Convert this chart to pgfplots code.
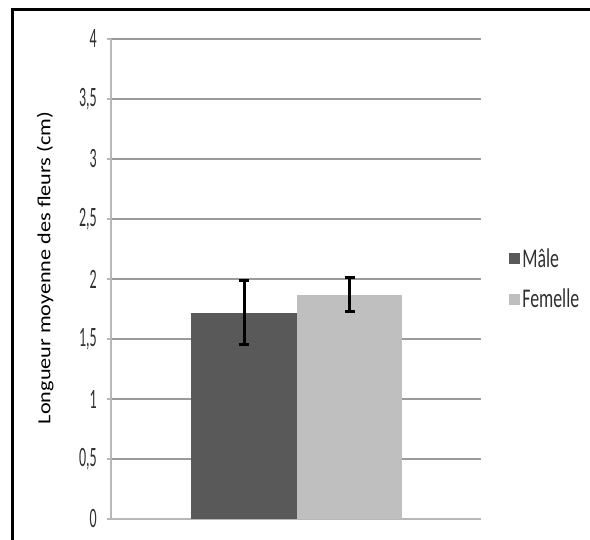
\documentclass[border=0pt]{standalone}
\usepackage{pgfplots}
\pgfplotsset{compat=1.18}
\usepackage{fontspec}
\setmainfont{Carlito}
\usepackage{graphicx}
\definecolor{male}{HTML}{595959}
\definecolor{femelle}{HTML}{BFBFBF}
\definecolor{gridgray}{HTML}{9A9A9A}
\definecolor{axgray}{HTML}{B8B8B8}
\definecolor{txt}{HTML}{303030}
\begin{document}
\begin{tikzpicture}[x=1pt,y=1pt]
\useasboundingbox (0,0) rectangle (590,540);
\fill[white] (0,0) rectangle (590,540);
\draw[line width=3pt, black] (12,0) -- (12,530) -- (590,530);
\begin{axis}[
  at={(111pt,21pt)}, anchor=south west,
  scale only axis, width=370pt, height=480pt,
  xmin=111, xmax=481, ymin=0, ymax=4,
  xtick=\empty,
  ytick={0,0.5,1,1.5,2,2.5,3,3.5,4},
  axis x line=bottom, axis y line=left,
  axis line style={-, line width=2pt, color=axgray},
  ymajorgrids, grid style={line width=2pt, color=gridgray},
  major tick length=4pt, tick align=outside,
  ytick style={line width=2pt, color=axgray},
  /pgf/number format/.cd, use comma, assume math mode=true, /pgfplots/.cd,
  yticklabel style={font=\fontsize{28}{28}\selectfont, text=txt, inner sep=0pt, xshift=-10pt},
  yticklabel={\scalebox{0.5}[1]{\pgfmathprintnumber{\tick}}},
  ylabel={\scalebox{1.2}[1]{Longueur moyenne des fleurs (cm)}},
  ylabel style={font=\fontsize{18.5}{18.5}\selectfont, text=black, at={(axis description cs:-0.178,0.523)}, anchor=center},
  ybar, bar width=105.5,
  legend style={at={(axis description cs:1.076,0.5)}, anchor=west, draw=none, fill=none,
    font=\fontsize{27}{27}\selectfont, text=txt, row sep=16pt, inner sep=0pt,
    nodes={inner sep=2pt}},
  legend cell align=left,
  legend image code/.code={\fill[#1] (0pt,-5.5pt) rectangle (11pt,5.5pt);},
  clip=false,
]
\addplot[fill=male, draw=none, bar shift=0pt,
  error bars/.cd, y dir=both, y explicit,
  error bar style={line width=3pt, black},
  error mark options={rotate=90, mark size=5pt, line width=3pt, black}]
  coordinates {(244,1.72) +- (0,0.27)};
\addplot[fill=femelle, draw=none, bar shift=0pt,
  error bars/.cd, y dir=both, y explicit,
  error bar style={line width=3pt, black},
  error mark options={rotate=90, mark size=5pt, line width=3pt, black}]
  coordinates {(349.5,1.87) +- (0,0.145)};
\legend{\scalebox{0.66}[1]{Mâle}, \scalebox{0.66}[1]{Femelle}}
\end{axis}
\end{tikzpicture}
\end{document}
